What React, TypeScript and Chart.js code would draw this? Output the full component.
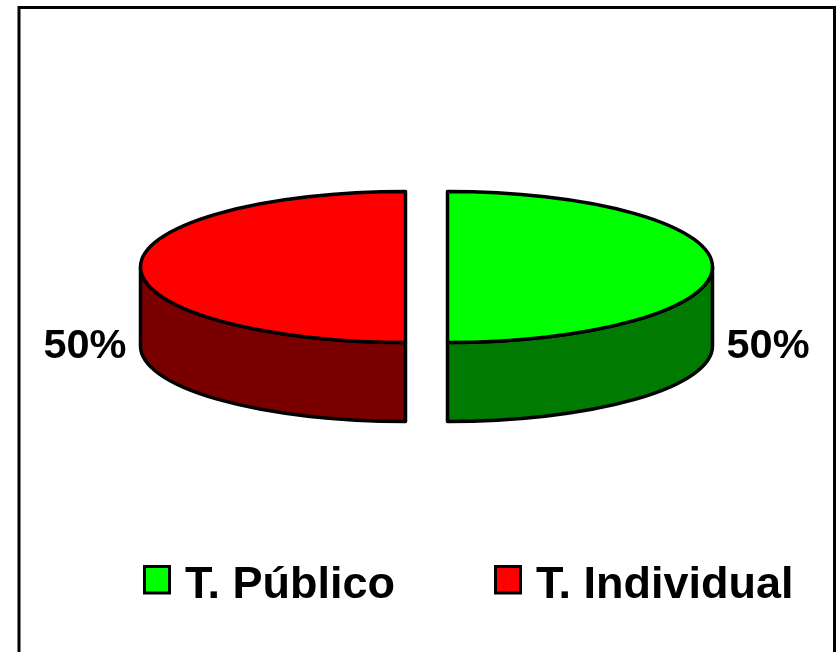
import { useEffect, useRef } from "react";
import { Chart, registerables } from "chart.js";

Chart.register(...registerables);

// ---- data ----
const categories: string[] = ["T. Público", "T. Individual"];
const shares: number[] = [50, 50];
const topColors: string[] = ["#00FF00", "#FF0000"];
const sideColors: string[] = ["#007A00", "#7A0000"];

// ---- style constants ----
const FONT = '"Liberation Sans", Arial, Helvetica, sans-serif';
const TILT = 0.285; // vertical squash of the pie
const DEPTH = 79; // thickness of the 3D pie
const LABEL_GAP = 14;
const LABEL_BASELINE_DY = 91;

const pie3d = {
  id: "pie3d",
  beforeDatasetsDraw(chart: any) {
    const ctx: CanvasRenderingContext2D = chart.ctx;
    const meta = chart.getDatasetMeta(0);
    const items = meta.data.map((arc: any, i: number) => {
      const p = arc.getProps(["x", "y", "startAngle", "endAngle", "outerRadius"], true);
      const off = (arc.options && arc.options.offset) || 0;
      const mid = (p.startAngle + p.endAngle) / 2;
      return {
        i,
        mid,
        cx: p.x + Math.cos(mid) * off,
        cy: p.y + Math.sin(mid) * off * TILT,
        r: p.outerRadius,
        ry: p.outerRadius * TILT,
        s: p.startAngle,
        e: p.endAngle,
      };
    });
    ctx.save();
    ctx.lineWidth = 3.5;
    ctx.strokeStyle = "#000";
    ctx.lineJoin = "round";
    // side walls (front half only)
    for (const it of items) {
      const a0 = Math.max(it.s, 0);
      const a1 = Math.min(it.e, Math.PI);
      if (a1 > a0) {
        ctx.beginPath();
        ctx.ellipse(it.cx, it.cy, it.r, it.ry, 0, a0, a1);
        ctx.ellipse(it.cx, it.cy + DEPTH, it.r, it.ry, 0, a1, a0, true);
        ctx.closePath();
        ctx.fillStyle = sideColors[it.i];
        ctx.fill();
        ctx.stroke();
      }
    }
    // top faces
    for (const it of items) {
      ctx.beginPath();
      ctx.moveTo(it.cx, it.cy);
      ctx.ellipse(it.cx, it.cy, it.r, it.ry, 0, it.s, it.e);
      ctx.closePath();
      ctx.fillStyle = topColors[it.i];
      ctx.fill();
      ctx.stroke();
    }
    // percentage labels
    const data: number[] = chart.data.datasets[0].data;
    const total = data.reduce((a: number, b: number) => a + b, 0);
    ctx.fillStyle = "#000";
    ctx.font = `bold 41.5px ${FONT}`;
    ctx.textBaseline = "alphabetic";
    for (const it of items) {
      const txt = `${Math.round((data[it.i] / total) * 100)}%`;
      const c = Math.cos(it.mid);
      ctx.textAlign = c >= 0 ? "left" : "right";
      const x = it.cx + c * (it.r + LABEL_GAP);
      ctx.fillText(txt, x, it.cy + LABEL_BASELINE_DY);
    }
    ctx.restore();
    return false;
  },
  afterDraw(chart: any) {
    const ctx: CanvasRenderingContext2D = chart.ctx;
    ctx.save();
    // legend
    const labels: string[] = chart.data.labels;
    ctx.font = `bold 45px ${FONT}`;
    ctx.textAlign = "left";
    ctx.textBaseline = "alphabetic";
    let x = 143;
    const baseline = 598;
    labels.forEach((lab, i) => {
      ctx.lineWidth = 3;
      ctx.strokeStyle = "#000";
      ctx.fillStyle = topColors[i];
      ctx.fillRect(x + 1.5, 566.5, 25, 26.5);
      ctx.strokeRect(x + 1.5, 566.5, 25, 26.5);
      ctx.fillStyle = "#000";
      const tx = x + 42;
      ctx.fillText(lab, tx, baseline);
      x = tx + ctx.measureText(lab).width + 99;
    });
    // frame
    ctx.lineWidth = 3;
    ctx.strokeStyle = "#000";
    ctx.strokeRect(19, 7.5, 815.5, 660);
    ctx.restore();
  },
};

export default function App() {
  const ref = useRef<HTMLCanvasElement | null>(null);
  useEffect(() => {
    if (!ref.current) return;
    const chart = new Chart(ref.current, {
      type: "pie",
      data: {
        labels: categories,
        datasets: [
          {
            data: shares,
            backgroundColor: topColors,
            borderColor: "#000",
            borderWidth: 3,
            offset: 21,
            radius: 265,
          } as any,
        ],
      },
      options: {
        responsive: false,
        animation: false,
        devicePixelRatio: 1,
        layout: { padding: { left: 14, right: 0, top: 0, bottom: 118 } },
        plugins: {
          legend: { display: false },
          tooltip: { enabled: false },
        },
      } as any,
      plugins: [pie3d as any],
    });
    return () => chart.destroy();
  }, []);
  return (
    <canvas
      ref={ref}
      width={839}
      height={652}
      style={{ position: "fixed", left: 0, top: 0, width: 839, height: 652, display: "block", background: "#fff" }}
    />
  );
}
